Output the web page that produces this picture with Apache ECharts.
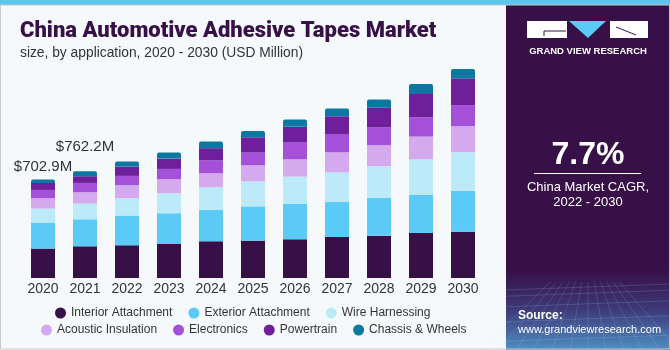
<!DOCTYPE html>
<html><head><meta charset="utf-8">
<script src="https://cdn.jsdelivr.net/npm/echarts@6/dist/echarts.min.js"></script>
<style>html,body{margin:0;padding:0;background:#f5f9fc;}#c{width:670px;height:350px;}</style>
</head><body><div id="c"></div>
<script>
const years = ['2020','2021','2022','2023','2024','2025','2026','2027','2028','2029','2030'];
const interiorAttachment = [210, 226.5, 233.8, 243, 262.4, 266.7, 276.7, 293, 302.4, 321.8, 328.9];
const exteriorAttachment = [186, 193, 212.4, 219.5, 223.8, 245.2, 252.4, 252.4, 269.6, 273.8, 293.2];
const wireHarnessing = [100, 112, 123.7, 143, 162.3, 178.8, 195.2, 209.5, 226.7, 252.4, 276.7];
const acousticInsulation = [74, 81, 93, 100, 100, 114.4, 123.7, 143, 150.2, 162.3, 185.9];
const electronics = [59, 66.5, 66.5, 73.6, 90.8, 90.8, 119.4, 126.6, 126.6, 138, 150.2];
const powertrain = [50, 48, 66.5, 73.6, 88, 109.4, 112.3, 130.8, 140.9, 166.6, 190.9];
const chassisWheels = [23.9, 35.2, 35.8, 43, 47.9, 45, 52.2, 55, 59.3, 71.5, 66.5];
const totalLabels = ['$702.9M', '$762.2M'];

const seriesDefs = [
  ['Interior Attachment', interiorAttachment, '#371047'],
  ['Exterior Attachment', exteriorAttachment, '#5ccaf6'],
  ['Wire Harnessing', wireHarnessing, '#bdeaf9'],
  ['Acoustic Insulation', acousticInsulation, '#d5a9ed'],
  ['Electronics', electronics, '#a450d8'],
  ['Powertrain', powertrain, '#6f1f9c'],
  ['Chassis & Wheels', chassisWheels, '#0c77a0']
];
const labelOffsets = [[0, 0], [0, -12]];

const series = seriesDefs.map(([name, vals, color], si) => {
  const isTop = si === seriesDefs.length - 1;
  return {
    name, type: 'bar', stack: 'total', barWidth: 24,
    itemStyle: { color, borderRadius: isTop ? [2, 2, 0, 0] : 0 },
    data: vals.map((v, i) => {
      const d = { value: v };
      if (isTop && i < totalLabels.length) {
        d.label = { show: true, position: 'top', formatter: totalLabels[i], offset: labelOffsets[i],
          color: '#333', fontSize: 15, fontFamily: 'Liberation Sans' };
      }
      return d;
    })
  };
});

// decorative grid in the bottom of the side panel
const deco = [];
for (let k = 0; k < 6; k++) {
  const y = 290 + k * k * 2.2 + k * 4;
  deco.push({ type: 'line', shape: { x1: 506, y1: y, x2: 670, y2: y - 6 },
    style: { stroke: 'rgba(180,210,240,0.18)', lineWidth: 1 }, z: 7 });
}
for (let k = 0; k < 12; k++) {
  const xb = 480 + k * 18;
  deco.push({ type: 'line', shape: { x1: 588 + (xb - 588) * 0.35, y1: 282, x2: xb, y2: 350 },
    style: { stroke: 'rgba(180,210,240,0.16)', lineWidth: 1 }, z: 7 });
}

const chart = echarts.init(document.getElementById('c'), null, { renderer: 'canvas' });
const legendBase = { icon: 'circle', itemWidth: 11, itemHeight: 11, itemGap: 16, padding: 0,
  textStyle: { color: '#333', fontSize: 12, fontFamily: 'Liberation Sans' }, selectedMode: false };

chart.setOption({
  backgroundColor: '#f5f9fc',
  animation: false,
  title: {
    text: 'China Automotive Adhesive Tapes Market',
    subtext: 'size, by application, 2020 - 2030 (USD Million)',
    left: 15, top: 15, itemGap: 4,
    textStyle: { color: '#371047', fontSize: 22, fontWeight: 900, fontFamily: 'Roboto' },
    subtextStyle: { color: '#333', fontSize: 13.8, fontFamily: 'Liberation Sans' }
  },
  legend: [
    Object.assign({}, legendBase, { data: seriesDefs.slice(0, 3).map(s => s[0]), left: 55, top: 307 }),
    Object.assign({}, legendBase, { data: seriesDefs.slice(3).map(s => s[0]), left: 41, top: 324 })
  ],
  grid: { left: 22, right: 186, top: 68, bottom: 72 },
  xAxis: {
    type: 'category', data: years,
    axisLine: { show: false }, axisTick: { show: false },
    axisLabel: { color: '#333', fontSize: 14, fontFamily: 'Liberation Sans', margin: 4 }
  },
  yAxis: { type: 'value', min: 0, max: 1500, show: false, splitLine: { show: false } },
  series,
  graphic: [
    { type: 'rect', shape: { x: 0, y: 0, width: 670, height: 5 }, style: { fill: '#5bc6ee' }, z: 10 },
    { type: 'rect', shape: { x: 0.5, y: 5, width: 669, height: 344 }, style: { fill: 'none', stroke: '#c8c8c8', lineWidth: 1 }, z: 10 },
    { type: 'rect', shape: { x: 506, y: 5, width: 164, height: 345 }, style: { fill: '#371047' }, z: 5 },
    { type: 'rect', shape: { x: 506, y: 270, width: 164, height: 80 },
      style: { fill: new echarts.graphic.LinearGradient(0, 0, 0, 1, [
        { offset: 0, color: 'rgba(55,16,71,1)' },
        { offset: 0.5, color: '#3d3a78' },
        { offset: 1, color: '#4f8fc4' }]) }, z: 6 },
    ...deco,
    // logo
    { type: 'rect', shape: { x: 527, y: 21, width: 40, height: 17 }, style: { fill: '#ffffff' }, z: 7 },
    { type: 'polyline', shape: { points: [[566, 31], [544, 31], [544, 36]] }, style: { stroke: '#371047', lineWidth: 1, fill: 'none' }, z: 8 },
    { type: 'polygon', shape: { points: [[569, 21], [606, 21], [588, 38]] }, style: { fill: '#5ccaf6' }, z: 7 },
    { type: 'rect', shape: { x: 610, y: 21, width: 38, height: 17 }, style: { fill: '#ffffff' }, z: 7 },
    { type: 'line', shape: { x1: 636, y1: 35, x2: 616, y2: 27 }, style: { stroke: '#371047', lineWidth: 1 }, z: 8 },
    { type: 'text', x: 588, y: 51, style: { text: 'GRAND VIEW RESEARCH', fill: '#ffffff', fontSize: 9.5, fontWeight: 'bold', fontFamily: 'Liberation Sans', align: 'center', verticalAlign: 'middle' }, z: 8 },
    { type: 'text', x: 588, y: 155, style: { text: '7.7%', fill: '#ffffff', fontSize: 32, fontWeight: 'bold', fontFamily: 'Liberation Sans', align: 'center', verticalAlign: 'middle' }, z: 8 },
    { type: 'line', shape: { x1: 534, y1: 173.5, x2: 641, y2: 173.5 }, style: { stroke: '#ffffff', lineWidth: 1 }, z: 8 },
    { type: 'text', x: 588, y: 187, style: { text: 'China Market CAGR,', fill: '#ffffff', fontSize: 13, fontFamily: 'Liberation Sans', align: 'center', verticalAlign: 'middle' }, z: 8 },
    { type: 'text', x: 588, y: 202, style: { text: '2022 - 2030', fill: '#ffffff', fontSize: 13, fontFamily: 'Liberation Sans', align: 'center', verticalAlign: 'middle' }, z: 8 },
    { type: 'text', x: 518, y: 316, style: { text: 'Source:', fill: '#ffffff', fontSize: 12, fontWeight: 'bold', fontFamily: 'Liberation Sans', align: 'left', verticalAlign: 'middle' }, z: 8 },
    { type: 'text', x: 518, y: 330, style: { text: 'www.grandviewresearch.com', fill: '#ffffff', fontSize: 11, fontFamily: 'Liberation Sans', align: 'left', verticalAlign: 'middle' }, z: 8 }
  ]
});
</script></body></html>
